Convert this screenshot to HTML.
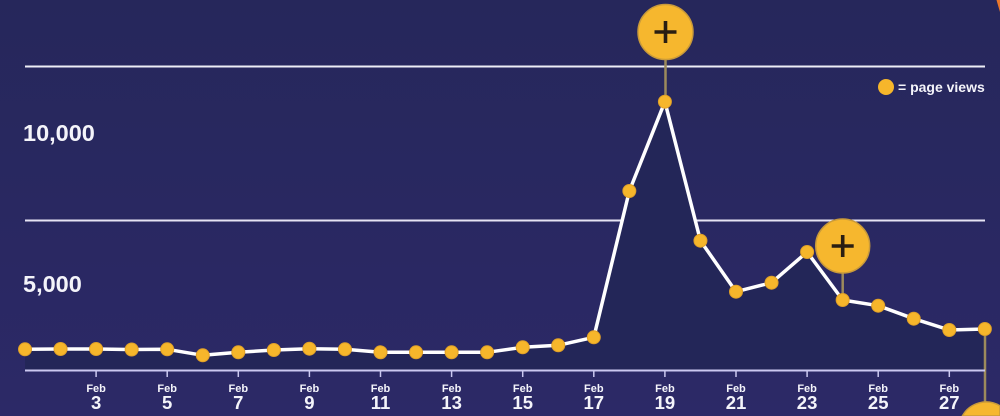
<!DOCTYPE html>
<html><head><meta charset="utf-8">
<style>
html,body{margin:0;padding:0;background:#282862;width:1000px;height:416px;overflow:hidden;}
svg{display:block;overflow:hidden;}
text{font-family:"Liberation Sans",sans-serif;font-weight:bold;fill:#f4f4fa;}
</style></head>
<body>
<svg width="1000" height="416" viewBox="0 0 1000 416" xmlns="http://www.w3.org/2000/svg">
<defs>
<linearGradient id="bg" x1="0" y1="0" x2="0" y2="1">
<stop offset="0" stop-color="#26275b"/>
<stop offset="1" stop-color="#2c2967"/>
</linearGradient>
</defs>
<rect width="1000" height="416" fill="url(#bg)"/>
<polygon points="996.5,0 1000,0 1000,12 998.5,7" fill="#e9772b"/>
<!-- gridlines -->
<line x1="25" y1="66.5" x2="985" y2="66.5" stroke="#eeeef6" stroke-width="2"/>
<line x1="25" y1="220.5" x2="985" y2="220.5" stroke="#e6e4f4" stroke-width="2"/>
<text x="23" y="141" font-size="23.5">10,000</text>
<text x="23" y="292" font-size="23.5">5,000</text>
<!-- area -->
<polygon fill="#232658" points="25,370 25,349.3 60.55,349 96.1,349 131.65,349.5 167.2,349.3 202.75,355.3 238.3,352.3 273.85,350 309.4,348.7 344.95,349.3 380.5,352.3 416.05,352.3 451.6,352.3 487.15,352.3 522.7,347.3 558.25,345.3 593.8,337.3 629.35,191 664.9,101.7 700.45,240.7 736,291.7 771.55,282.7 807.1,252 842.65,300 878.2,305.7 913.75,318.7 949.3,330 984.85,329 984.85,370"/>
<!-- stems -->
<line x1="665.5" y1="58" x2="665.5" y2="101" stroke="#9c8a5c" stroke-width="2.5"/>
<line x1="842.7" y1="272" x2="842.7" y2="300" stroke="#9c8a5c" stroke-width="2.5"/>
<line x1="985" y1="329" x2="985" y2="405" stroke="#9c8a5c" stroke-width="2.5"/>
<!-- line -->
<polyline fill="none" stroke="#ffffff" stroke-width="3.5" stroke-linejoin="round" points="25,349.3 60.55,349 96.1,349 131.65,349.5 167.2,349.3 202.75,355.3 238.3,352.3 273.85,350 309.4,348.7 344.95,349.3 380.5,352.3 416.05,352.3 451.6,352.3 487.15,352.3 522.7,347.3 558.25,345.3 593.8,337.3 629.35,191 664.9,101.7 700.45,240.7 736,291.7 771.55,282.7 807.1,252 842.65,300 878.2,305.7 913.75,318.7 949.3,330 984.85,329"/>
<!-- axis -->
<line x1="25" y1="370.5" x2="985" y2="370.5" stroke="#cbc8f0" stroke-width="2"/>
<g stroke="#cbc8f0" stroke-width="1.5">
<line x1="96.1" y1="370" x2="96.1" y2="377"/>
<line x1="167.2" y1="370" x2="167.2" y2="377"/>
<line x1="238.3" y1="370" x2="238.3" y2="377"/>
<line x1="309.4" y1="370" x2="309.4" y2="377"/>
<line x1="380.5" y1="370" x2="380.5" y2="377"/>
<line x1="451.6" y1="370" x2="451.6" y2="377"/>
<line x1="522.7" y1="370" x2="522.7" y2="377"/>
<line x1="593.8" y1="370" x2="593.8" y2="377"/>
<line x1="664.9" y1="370" x2="664.9" y2="377"/>
<line x1="736" y1="370" x2="736" y2="377"/>
<line x1="807.1" y1="370" x2="807.1" y2="377"/>
<line x1="878.2" y1="370" x2="878.2" y2="377"/>
<line x1="949.3" y1="370" x2="949.3" y2="377"/>
</g>
<g text-anchor="middle" font-size="11">
<text x="96.1" y="392">Feb</text><text x="167.2" y="392">Feb</text><text x="238.3" y="392">Feb</text>
<text x="309.4" y="392">Feb</text><text x="380.5" y="392">Feb</text><text x="451.6" y="392">Feb</text>
<text x="522.7" y="392">Feb</text><text x="593.8" y="392">Feb</text><text x="664.9" y="392">Feb</text>
<text x="736" y="392">Feb</text><text x="807.1" y="392">Feb</text><text x="878.2" y="392">Feb</text>
<text x="949.3" y="392">Feb</text>
</g>
<g text-anchor="middle" font-size="18.5">
<text x="96.1" y="409">3</text><text x="167.2" y="409">5</text><text x="238.3" y="409">7</text>
<text x="309.4" y="409">9</text><text x="380.5" y="409">11</text><text x="451.6" y="409">13</text>
<text x="522.7" y="409">15</text><text x="593.8" y="409">17</text><text x="664.9" y="409">19</text>
<text x="736" y="409">21</text><text x="807.1" y="409">23</text><text x="878.2" y="409">25</text>
<text x="949.3" y="409">27</text>
</g>
<!-- dots -->
<g fill="#f6b62b" stroke="#e0a028" stroke-width="1">
<circle cx="25" cy="349.3" r="6.5"/><circle cx="60.55" cy="349" r="6.5"/><circle cx="96.1" cy="349" r="6.5"/>
<circle cx="131.65" cy="349.5" r="6.5"/><circle cx="167.2" cy="349.3" r="6.5"/><circle cx="202.75" cy="355.3" r="6.5"/>
<circle cx="238.3" cy="352.3" r="6.5"/><circle cx="273.85" cy="350" r="6.5"/><circle cx="309.4" cy="348.7" r="6.5"/>
<circle cx="344.95" cy="349.3" r="6.5"/><circle cx="380.5" cy="352.3" r="6.5"/><circle cx="416.05" cy="352.3" r="6.5"/>
<circle cx="451.6" cy="352.3" r="6.5"/><circle cx="487.15" cy="352.3" r="6.5"/><circle cx="522.7" cy="347.3" r="6.5"/>
<circle cx="558.25" cy="345.3" r="6.5"/><circle cx="593.8" cy="337.3" r="6.5"/><circle cx="629.35" cy="191" r="6.5"/>
<circle cx="664.9" cy="101.7" r="6.5"/><circle cx="700.45" cy="240.7" r="6.5"/><circle cx="736" cy="291.7" r="6.5"/>
<circle cx="771.55" cy="282.7" r="6.5"/><circle cx="807.1" cy="252" r="6.5"/><circle cx="842.65" cy="300" r="6.5"/>
<circle cx="878.2" cy="305.7" r="6.5"/><circle cx="913.75" cy="318.7" r="6.5"/><circle cx="949.3" cy="330" r="6.5"/>
<circle cx="984.85" cy="329" r="6.5"/>
</g>
<!-- plus markers -->
<g fill="#f6b72e" stroke="#c99a3a" stroke-width="1.5">
<circle cx="665.5" cy="32" r="27.5"/>
<circle cx="842.7" cy="246" r="27"/>
<path d="M962.34,416 A27,27 0 0,1 1000,405.9 L1000,416 Z"/>
</g>
<g stroke="#2a1e12" stroke-width="3.6">
<line x1="654.5" y1="32" x2="676.5" y2="32"/><line x1="665.5" y1="21" x2="665.5" y2="43"/>
<line x1="831.7" y1="246" x2="853.7" y2="246"/><line x1="842.7" y1="235" x2="842.7" y2="257"/>
</g>
<!-- legend -->
<circle cx="886" cy="87" r="8" fill="#f6b62b"/>
<text x="898" y="92" font-size="14">= page views</text>
</svg>
</body></html>
